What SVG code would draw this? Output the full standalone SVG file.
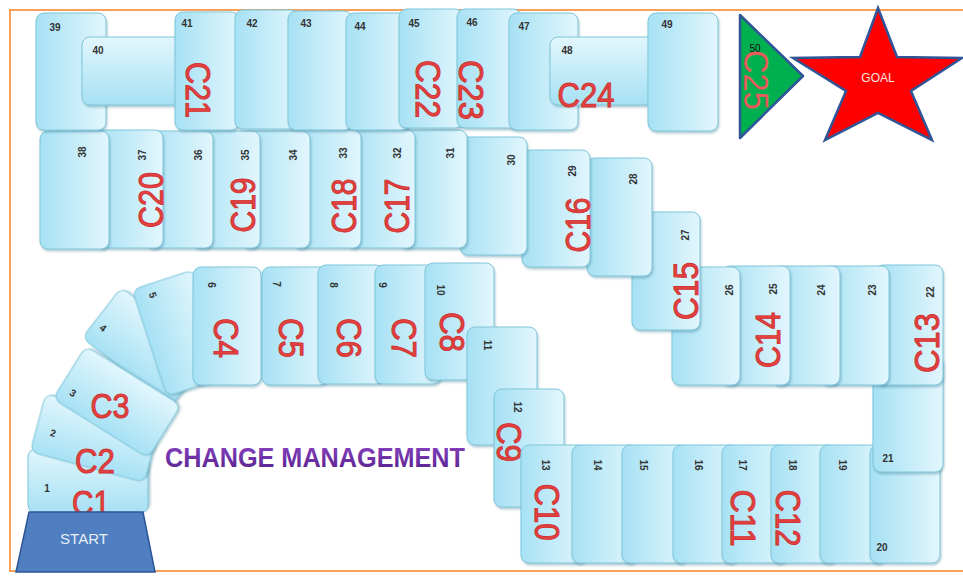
<svg xmlns="http://www.w3.org/2000/svg" width="963" height="576" viewBox="0 0 963 576">
<defs>
<linearGradient id="g" x1="0" y1="0" x2="1" y2="0"><stop offset="0" stop-color="#a6e1f4"/><stop offset="1" stop-color="#e2f6fd"/></linearGradient>
<linearGradient id="gv" x1="0" y1="0" x2="0" y2="1"><stop offset="0" stop-color="#e2f6fd"/><stop offset="1" stop-color="#a6e1f4"/></linearGradient>
<linearGradient id="pg" x1="0" y1="0" x2="0" y2="1"><stop offset="0" stop-color="#8a44c4"/><stop offset="1" stop-color="#55208a"/></linearGradient>
<filter id="sh" x="-15%" y="-15%" width="140%" height="140%"><feDropShadow dx="1" dy="2" stdDeviation="1.2" flood-color="#3f7f95" flood-opacity="0.4"/></filter>
</defs>
<style>
.t{fill:url(#g);stroke:#7fc6da;stroke-width:1;filter:url(#sh)}
.tv{fill:url(#gv)}
.n{font-family:"Liberation Sans",Arial,sans-serif;font-size:10px;font-weight:bold;fill:#333;text-anchor:middle;dominant-baseline:central}
.c{font-family:"Liberation Sans",Arial,sans-serif;font-size:35px;fill:#e5413f;stroke:#cf3333;stroke-width:1;text-anchor:middle;dominant-baseline:central}
</style>
<rect x="10" y="10" width="960" height="561" fill="#fff" stroke="#f6a059" stroke-width="2"/>

<!-- fan tiles 1-5 -->
<g id="t1"><rect class="t" x="-32" y="-60" width="64" height="120" rx="8" transform="translate(88,481) rotate(-90)"/><text class="n" x="47" y="488">1</text><text class="c" x="91" y="502" textLength="38" lengthAdjust="spacingAndGlyphs">C1</text></g>
<g id="t2"><rect class="t" x="-30" y="-59" width="60" height="118" rx="8" transform="translate(95,438) rotate(-75)"/><text class="n" transform="translate(53,433) rotate(15)">2</text><text class="c" x="95" y="460" textLength="40" lengthAdjust="spacingAndGlyphs">C2</text></g>
<g id="t4"><rect class="t" x="-32" y="-56" width="64" height="112" rx="8" transform="translate(146,347) rotate(-52)"/><text class="n" transform="translate(103,328) rotate(38)">4</text></g>
<g id="t3"><rect class="t" x="-31" y="-56" width="62" height="112" rx="8" transform="translate(117,402) rotate(-58)"/><text class="n" transform="translate(73,393) rotate(32)">3</text><text class="c" x="110" y="405" textLength="39" lengthAdjust="spacingAndGlyphs">C3</text></g>
<g id="t5"><rect class="t" x="-32" y="-56" width="64" height="112" rx="8" transform="translate(180,333) rotate(-18)"/><text class="n" transform="translate(153,295) rotate(72)">5</text></g>

<!-- tiles 6-21 -->
<g id="t6"><rect class="t" x="193" y="267" width="68" height="118" rx="8"/><text class="n" transform="translate(211,285) rotate(90)">6</text><text class="c" transform="translate(226,338) rotate(90)" textLength="40" lengthAdjust="spacingAndGlyphs">C4</text></g>
<g id="t7"><rect class="t" x="262" y="267" width="66" height="118" rx="8"/><text class="n" transform="translate(276,284) rotate(90)">7</text><text class="c" transform="translate(291,338) rotate(90)" textLength="40" lengthAdjust="spacingAndGlyphs">C5</text></g>
<g id="t8"><rect class="t" x="318" y="265" width="66" height="119" rx="8"/><text class="n" transform="translate(333,285) rotate(90)">8</text><text class="c" transform="translate(349,338) rotate(90)" textLength="40" lengthAdjust="spacingAndGlyphs">C6</text></g>
<g id="t9"><rect class="t" x="375" y="265" width="66" height="119" rx="8"/><text class="n" transform="translate(382,285) rotate(90)">9</text><text class="c" transform="translate(404,338) rotate(90)" textLength="40" lengthAdjust="spacingAndGlyphs">C7</text></g>
<g id="t10"><rect class="t" x="425" y="263" width="69" height="117" rx="8"/><text class="n" transform="translate(440,290) rotate(90)">10</text><text class="c" transform="translate(452,332) rotate(90)" textLength="40" lengthAdjust="spacingAndGlyphs">C8</text></g>
<g id="t11"><rect class="t" x="467" y="327" width="70" height="118" rx="8"/><text class="n" transform="translate(487,345) rotate(90)">11</text></g>
<g id="t12"><rect class="t" x="494" y="389" width="70" height="118" rx="8"/><text class="n" transform="translate(517,407) rotate(90)">12</text><text class="c" transform="translate(509,442) rotate(90)" textLength="40" lengthAdjust="spacingAndGlyphs">C9</text></g>
<g id="t13"><rect class="t" x="521" y="445" width="66" height="118" rx="8"/><text class="n" transform="translate(545,465) rotate(90)">13</text><text class="c" transform="translate(547,512) rotate(90)" textLength="57" lengthAdjust="spacingAndGlyphs">C10</text></g>
<g id="t14"><rect class="t" x="572" y="445" width="66" height="118" rx="8"/><text class="n" transform="translate(597,465) rotate(90)">14</text></g>
<g id="t15"><rect class="t" x="622" y="445" width="66" height="118" rx="8"/><text class="n" transform="translate(643,465) rotate(90)">15</text></g>
<g id="t16"><rect class="t" x="673" y="445" width="66" height="118" rx="8"/><text class="n" transform="translate(698,465) rotate(90)">16</text></g>
<g id="t17"><rect class="t" x="722" y="445" width="66" height="118" rx="8"/><text class="n" transform="translate(742,465) rotate(90)">17</text><text class="c" transform="translate(743,518) rotate(90)" textLength="57" lengthAdjust="spacingAndGlyphs">C11</text></g>
<g id="t18"><rect class="t" x="771" y="445" width="66" height="118" rx="8"/><text class="n" transform="translate(792,465) rotate(90)">18</text><text class="c" transform="translate(788,518) rotate(90)" textLength="57" lengthAdjust="spacingAndGlyphs">C12</text></g>
<g id="t19"><rect class="t" x="820" y="445" width="66" height="118" rx="8"/><text class="n" transform="translate(842,465) rotate(90)">19</text></g>
<g id="t20"><rect class="t" x="870" y="445" width="70" height="118" rx="8"/><text class="n" x="882" y="547">20</text></g>
<g id="t21"><rect class="t" x="873" y="355" width="70" height="117" rx="8"/><text class="n" x="888" y="458">21</text></g>

<!-- tiles 22-38 -->
<g id="t22"><rect class="t" x="875" y="265" width="68" height="120" rx="8"/><text class="n" transform="translate(930,292) rotate(-90)">22</text><text class="c" transform="translate(926,343) rotate(-90)" textLength="60" lengthAdjust="spacingAndGlyphs">C13</text></g>
<g id="t23"><rect class="t" x="821" y="266" width="68" height="119" rx="8"/><text class="n" transform="translate(872,290) rotate(-90)">23</text></g>
<g id="t24"><rect class="t" x="772" y="266" width="68" height="119" rx="8"/><text class="n" transform="translate(821,290) rotate(-90)">24</text></g>
<g id="t25"><rect class="t" x="722" y="266" width="68" height="119" rx="8"/><text class="n" transform="translate(773,289) rotate(-90)">25</text><text class="c" transform="translate(767,340) rotate(-90)" textLength="56" lengthAdjust="spacingAndGlyphs">C14</text></g>
<g id="t26"><rect class="t" x="672" y="267" width="68" height="118" rx="8"/><text class="n" transform="translate(729,290) rotate(-90)">26</text></g>
<g id="t27"><rect class="t" x="632" y="212" width="68" height="118" rx="8"/><text class="n" transform="translate(685,235) rotate(-90)">27</text><text class="c" transform="translate(685,291) rotate(-90)" textLength="58" lengthAdjust="spacingAndGlyphs">C15</text></g>
<g id="t28"><rect class="t" x="587" y="158" width="65" height="118" rx="8"/><text class="n" transform="translate(633,179) rotate(-90)">28</text></g>
<g id="t29"><rect class="t" x="522" y="150" width="68" height="117" rx="8"/><text class="n" transform="translate(572,171) rotate(-90)">29</text><text class="c" transform="translate(577,225) rotate(-90)" textLength="55" lengthAdjust="spacingAndGlyphs">C16</text></g>
<g id="t30"><rect class="t" x="460" y="137" width="67" height="118" rx="8"/><text class="n" transform="translate(511,160) rotate(-90)">30</text></g>
<g id="t31"><rect class="t" x="399" y="130" width="68" height="118" rx="8"/><text class="n" transform="translate(450,153) rotate(-90)">31</text></g>
<g id="t32"><rect class="t" x="347" y="130" width="68" height="118" rx="8"/><text class="n" transform="translate(397,153) rotate(-90)">32</text><text class="c" transform="translate(396,206) rotate(-90)" textLength="55" lengthAdjust="spacingAndGlyphs">C17</text></g>
<g id="t33"><rect class="t" x="293" y="130" width="68" height="118" rx="8"/><text class="n" transform="translate(343,153) rotate(-90)">33</text><text class="c" transform="translate(343,206) rotate(-90)" textLength="55" lengthAdjust="spacingAndGlyphs">C18</text></g>
<g id="t34"><rect class="t" x="242" y="131" width="68" height="117" rx="8"/><text class="n" transform="translate(293,155) rotate(-90)">34</text></g>
<g id="t35"><rect class="t" x="192" y="131" width="68" height="117" rx="8"/><text class="n" transform="translate(245,155) rotate(-90)">35</text><text class="c" transform="translate(242,205) rotate(-90)" textLength="55" lengthAdjust="spacingAndGlyphs">C19</text></g>
<g id="t36"><rect class="t" x="145" y="131" width="68" height="117" rx="8"/><text class="n" transform="translate(198,155) rotate(-90)">36</text></g>
<g id="t37"><rect class="t" x="95" y="130" width="68" height="118" rx="8"/><text class="n" transform="translate(142,155) rotate(-90)">37</text><text class="c" transform="translate(150,200) rotate(-90)" textLength="56" lengthAdjust="spacingAndGlyphs">C20</text></g>
<g id="t38"><rect class="t" x="40" y="131" width="69" height="118" rx="8"/><text class="n" transform="translate(82,152) rotate(-90)">38</text></g>

<!-- tiles 39-50 -->
<g id="t39"><rect class="t" x="36" y="13" width="70" height="117" rx="8"/><text class="n" x="55" y="27">39</text></g>
<g id="t40"><rect class="t tv" x="82" y="37" width="110" height="68" rx="8"/><text class="n" x="98" y="50">40</text></g>
<g id="t41"><rect class="t" x="175" y="12" width="64" height="118" rx="8"/><text class="n" x="187" y="23">41</text><text class="c" transform="translate(198,90) rotate(90)" textLength="56" lengthAdjust="spacingAndGlyphs">C21</text></g>
<g id="t42"><rect class="t" x="235" y="10" width="64" height="119" rx="8"/><text class="n" x="252" y="23">42</text></g>
<g id="t43"><rect class="t" x="288" y="11" width="64" height="119" rx="8"/><text class="n" x="306" y="23">43</text></g>
<g id="t44"><rect class="t" x="346" y="13" width="64" height="117" rx="8"/><text class="n" x="360" y="26">44</text></g>
<g id="t45"><rect class="t" x="399" y="9" width="64" height="119" rx="8"/><text class="n" x="414" y="23">45</text><text class="c" transform="translate(428,89) rotate(90)" textLength="58" lengthAdjust="spacingAndGlyphs">C22</text></g>
<g id="t46"><rect class="t" x="457" y="9" width="64" height="119" rx="8"/><text class="n" x="472" y="22">46</text><text class="c" transform="translate(471,90) rotate(90)" textLength="60" lengthAdjust="spacingAndGlyphs">C23</text></g>
<g id="t47"><rect class="t" x="509" y="13" width="69" height="117" rx="8"/><text class="n" x="524" y="26">47</text></g>
<g id="t48"><rect class="t tv" x="550" y="37" width="110" height="68" rx="8"/><text class="n" x="567" y="50">48</text><text class="c" x="586" y="94" textLength="57" lengthAdjust="spacingAndGlyphs">C24</text></g>
<g id="t49"><rect class="t" x="648" y="13" width="70" height="118" rx="8"/><text class="n" x="667" y="24">49</text></g>
<g id="t50"><polygon points="740,15 803,76 740,138" fill="#00b050" stroke="#2f5597" stroke-width="2.5" stroke-linejoin="round"/><text class="n" x="755" y="48" style="font-weight:normal;fill:#111">50</text><text class="c" transform="translate(756,80) rotate(90)" textLength="60" lengthAdjust="spacingAndGlyphs" style="fill:#e85a5a;stroke:none">C25</text></g>
<g id="goal"><polygon points="878,8 897,57 962,58 911,91 932,140 878,113 825,140 846,91 793,58 860,57" fill="#ff0000" stroke="#2f5597" stroke-width="2.5"/><text x="878" y="78" text-anchor="middle" dominant-baseline="central" font-family="Liberation Sans, Arial, sans-serif" font-size="12" fill="#fbe3e3">GOAL</text></g>

<g id="start"><polygon points="29,512 143,512 155,572 16,572" fill="#4f7fc0" stroke="#2e5597" stroke-width="1.5"/><text x="84" y="538" text-anchor="middle" dominant-baseline="central" font-family="Liberation Sans, Arial, sans-serif" font-size="15" fill="#e8eef8">START</text></g>

<text id="title" x="165" y="467" font-family="Liberation Sans, Arial, sans-serif" font-weight="bold" font-size="28" fill="url(#pg)" textLength="300" lengthAdjust="spacingAndGlyphs">CHANGE MANAGEMENT</text>
</svg>
